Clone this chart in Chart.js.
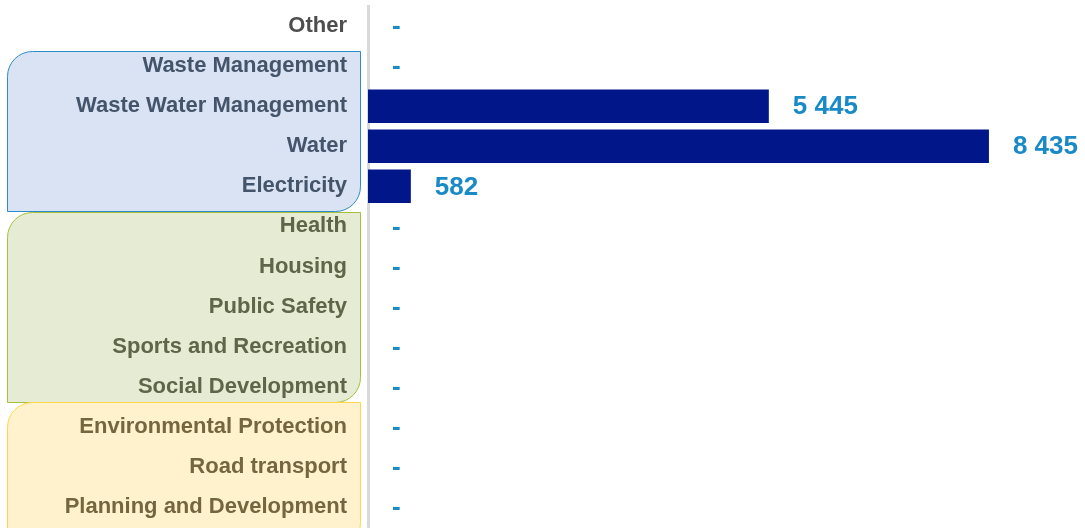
<!DOCTYPE html>
<html>
<head>
<meta charset="utf-8">
<script src="https://cdn.jsdelivr.net/npm/chart.js@4.4.1/dist/chart.umd.min.js"></script>
<style>
  html, body { margin: 0; padding: 0; background: #ffffff; }
  #wrap { width: 1085px; height: 528px; position: relative; }
</style>
</head>
<body>
<div id="wrap"><canvas id="chart"></canvas></div>
<script>
// Datos del gráfico
const categories = [
    'Other',
    'Waste Management',
    'Waste Water Management',
    'Water',
    'Electricity',
    'Health',
    'Housing',
    'Public Safety',
    'Sports and Recreation',
    'Social Development',
    'Environmental Protection',
    'Road transport',
    'Planning and Development'
];
const values = [0, 0, 5445, 8435, 582, 0, 0, 0, 0, 0, 0, 0, 0];

// Grupos de categorías (cajas de fondo detrás de las etiquetas)
const groups = [
    { from: 1, to: 4, fill: '#DAE3F3', stroke: '#2E8BC9', text: '#44546A', padTop: 15, padBottom: 25 },
    { from: 5, to: 9, fill: '#E6EBD3', stroke: '#A6BF3C', text: '#5F6548', padTop: 14, padBottom: 15 },
    { from: 10, to: 12, fill: '#FFF2CC', stroke: '#FFD54A', text: '#74663F', padTop: 25, padBottom: 40 }
];
const otherColor = '#4D4D4D';

function labelColor(index) {
    const g = groups.find(g => index >= g.from && index <= g.to);
    return g ? g.text : otherColor;
}

function formatValue(v) {
    if (!v) return '-';
    return String(v).replace(/\B(?=(\d{3})+(?!\d))/g, ' ');
}

// Cajas redondeadas detrás de las etiquetas
const groupBoxes = {
    id: 'groupBoxes',
    beforeDraw(chart) {
        const ctx = chart.ctx;
        const yScale = chart.scales.y;
        const left = 7.5;
        const right = chart.chartArea.left - 7.5;
        const r = 25;
        ctx.save();
        groups.forEach(g => {
            const top = Math.round(yScale.getPixelForValue(g.from) - g.padTop) + 0.5;
            const bottom = Math.round(yScale.getPixelForValue(g.to) + g.padBottom) + 0.5;
            ctx.beginPath();
            ctx.moveTo(left, bottom);
            ctx.lineTo(left, top + r);
            ctx.arcTo(left, top, left + r, top, r);
            ctx.lineTo(right, top);
            ctx.lineTo(right, bottom - r);
            ctx.arcTo(right, bottom, right - r, bottom, r);
            ctx.closePath();
            ctx.fillStyle = g.fill;
            ctx.fill();
            ctx.lineWidth = 1;
            ctx.strokeStyle = g.stroke;
            ctx.stroke();
        });
        ctx.restore();
    }
};

// Etiquetas de valor a la derecha de las barras
const valueLabels = {
    id: 'valueLabels',
    afterDatasetsDraw(chart) {
        const ctx = chart.ctx;
        const meta = chart.getDatasetMeta(0);
        ctx.save();
        ctx.font = 'bold 26px "Liberation Sans", Arial, sans-serif';
        ctx.fillStyle = '#1A8AC6';
        ctx.textAlign = 'left';
        ctx.textBaseline = 'middle';
        meta.data.forEach((bar, i) => {
            ctx.fillText(formatValue(values[i]), bar.x + 24, bar.y + 1);
        });
        ctx.restore();
    }
};

const ctx = document.getElementById('chart').getContext('2d');
new Chart(ctx, {
    type: 'bar',
    data: {
        labels: categories,
        datasets: [{
            data: values,
            backgroundColor: '#001689',
            borderWidth: 0,
            categoryPercentage: 1,
            barPercentage: 0.835
        }]
    },
    options: {
        indexAxis: 'y',
        responsive: true,
        maintainAspectRatio: false,
        animation: false,
        layout: { padding: { top: 6, bottom: 1, left: 0, right: 0 } },
        plugins: {
            legend: { display: false },
            tooltip: { enabled: false }
        },
        scales: {
            x: {
                display: false,
                min: 0,
                max: 9740
            },
            y: {
                afterFit(scale) {
                    scale.width = 368;
                    scale.paddingTop = 0;
                    scale.paddingBottom = 0;
                },
                grid: { display: false, drawTicks: false },
                border: { display: true, color: '#D9D9D9', width: 3 },
                ticks: {
                    padding: 21,
                    font: { family: '"Liberation Sans", Arial, sans-serif', size: 22, weight: 'bold' },
                    color: c => labelColor(c.index)
                }
            }
        }
    },
    plugins: [groupBoxes, valueLabels]
});
</script>
</body>
</html>
